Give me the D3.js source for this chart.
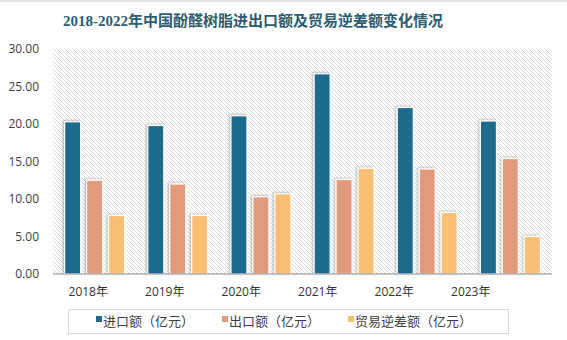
<!DOCTYPE html>
<html><head><meta charset="utf-8">
<script src="https://cdn.jsdelivr.net/npm/d3@7"></script>
<style>body{margin:0;background:#fff}svg{display:block}</style>
</head><body>
<script>
const years = ["2018年","2019年","2020年","2021年","2022年","2023年"];
const seriesNames = ["进口额（亿元）","出口额（亿元）","贸易逆差额（亿元）"];
const importVals = [20.3, 19.8, 21.1, 26.7, 22.2, 20.4];
const exportVals = [12.5, 12.0, 10.3, 12.6, 14.0, 15.4];
const deficitVals = [7.8, 7.8, 10.7, 14.1, 8.2, 5.0];
const yTicks = [0,5,10,15,20,25,30];
const colors = ["#1d6a8c","#e19b7b","#fbbf73"];
const title = "2018-2022年中国酚醛树脂进出口额及贸易逆差额变化情况";

const W=567,H=340;
const svg=d3.select("body").append("svg").attr("width",W).attr("height",H);
const defs=svg.append("defs");
const pat=defs.append("pattern").attr("id","hatch").attr("patternUnits","userSpaceOnUse")
  .attr("width",4).attr("height",4);
pat.append("rect").attr("width",4).attr("height",4).attr("fill","#fff");
pat.append("path").attr("d","M0,0L4,4M-1,3L1,5M3,-1L5,1").attr("stroke","#d9d9d9").attr("stroke-width",1);
const f=defs.append("filter").attr("id","sh").attr("x","-50%").attr("y","-20%").attr("width","200%").attr("height","140%");
f.append("feDropShadow").attr("dx",-1.2).attr("dy",-0.8).attr("stdDeviation",1.3).attr("flood-color","#000").attr("flood-opacity",0.28);

svg.append("rect").attr("x",0).attr("y",0).attr("width",W).attr("height",2).attr("fill","#e3e3e3");

svg.append("text").attr("x",253).attr("y",26).attr("text-anchor","middle")
  .attr("font-family","'Liberation Serif','Noto Sans CJK SC',serif").attr("font-weight","bold")
  .attr("font-size",15).attr("fill","#2b5c70").text(title);

const pLeft=53,pRight=552,pTop=49,pBottom=274;
const y=d3.scaleLinear().domain([0,30]).range([pBottom,pTop]);
const x0=d3.scaleBand().domain(years).range([pLeft,pRight]).paddingInner(0.279).paddingOuter(0.14);
const x1=d3.scaleBand().domain([0,1,2]).range([0,x0.bandwidth()]).paddingInner(0.27);

svg.append("rect").attr("x",pLeft).attr("y",pTop).attr("width",pRight-pLeft).attr("height",pBottom-pTop).attr("fill","url(#hatch)");

const data=[importVals,exportVals,deficitVals];
const g=svg.append("g");
years.forEach((yr,i)=>{
  data.forEach((vals,s)=>{
    g.append("rect").attr("x",x0(yr)+x1(s)).attr("y",y(vals[i]))
     .attr("width",x1.bandwidth()).attr("height",pBottom-y(vals[i]))
     .attr("fill",colors[s]).attr("stroke","#fff").attr("stroke-width",1.2)
     .attr("filter","url(#sh)");
  });
});

const yAxis=d3.axisLeft(y).tickValues(yTicks).tickFormat(d3.format(".2f")).tickSize(0).tickPadding(14);
const ya=svg.append("g").attr("transform",`translate(${pLeft},0)`).call(yAxis);
ya.select(".domain").remove();
ya.selectAll("text").attr("font-family","'Open Sans','DejaVu Sans',sans-serif").attr("font-size",12).attr("fill","#404040");

svg.append("line").attr("x1",pLeft).attr("x2",pRight).attr("y1",pBottom).attr("y2",pBottom).attr("stroke","#8a8a8a").attr("stroke-width",1);

const xl=d3.scaleBand().domain(years).range([50,509]);
const xa=svg.append("g").attr("transform",`translate(0,${pBottom})`).call(d3.axisBottom(xl).tickSize(0).tickPadding(13));
xa.select(".domain").remove();
xa.selectAll("text").attr("font-family","'Open Sans','Noto Sans CJK SC',sans-serif").attr("font-size",12).attr("fill","#333");

svg.append("rect").attr("x",68.5).attr("y",309.5).attr("width",440).attr("height",24).attr("fill","#fff").attr("stroke","#d9d9d9");
const lx=[96,222,348];
seriesNames.forEach((n,i)=>{
  svg.append("rect").attr("x",lx[i]).attr("y",316).attr("width",6).attr("height",6).attr("fill",colors[i]);
  svg.append("text").attr("x",lx[i]+7).attr("y",325.5).attr("font-family","'Noto Sans CJK SC',sans-serif")
    .attr("font-size",13).attr("fill","#404040").text(n);
});
</script>
</body></html>
